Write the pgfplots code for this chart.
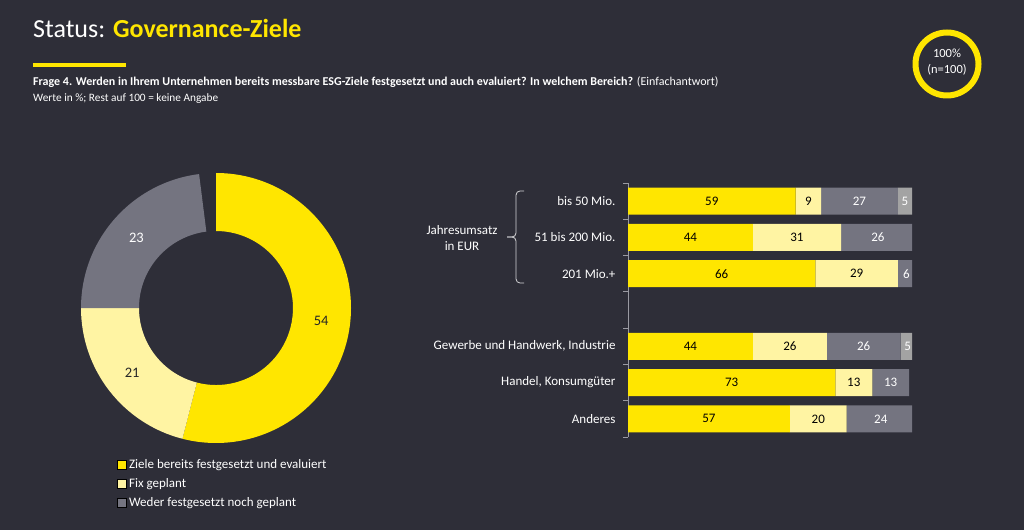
\documentclass[border=0pt]{standalone}
\usepackage{pgfplots}
\pgfplotsset{compat=1.18}
\usepackage{pgfplotstable}
\usepackage{fontspec}
\setmainfont{Carlito}

\definecolor{bg}{HTML}{2E2E38}
\definecolor{eyyellow}{HTML}{FFE600}
\definecolor{lightyellow}{HTML}{FFF4A3}
\definecolor{eygray}{HTML}{747480}
\definecolor{lightgray}{HTML}{A3A3A3}
\definecolor{axisgray}{HTML}{9A9AA2}

% Werte in %, Zeilen: 0..2 Jahresumsatz, 4..6 Branchen
\pgfplotstableread{
pos a b c d
0 59 9 27 5
1 44 31 26 0
2 66 29 6 0
4 44 26 26 5
5 73 13 13 0
6 57 20 24 0
}\umfrage

% Gesamt (Donut)
\pgfplotstableread{
anteil
54
21
23
}\gesamt

\pgfplotsset{
  barlabel/.style={only marks, mark=none, point meta=explicit,
    nodes near coords, restrict x to domain=0:100,
    every node near coord/.append style={anchor=center, font=\fontsize{13}{15}\selectfont, text=#1}},
}

\begin{document}
\begin{tikzpicture}
\fill[bg] (0pt,0pt) rectangle (1024pt,530pt);

% Kopf
\node[anchor=base west, inner sep=0pt, text=white, font=\fontsize{26}{30}\selectfont] at (33pt,492pt)
  {Status: \textcolor{eyyellow}{\bfseries Governance-Ziele}};
\fill[eyyellow] (33pt,463pt) rectangle (126pt,467pt);
\node[anchor=base west, inner sep=0pt, text=white, font=\fontsize{12}{14}\selectfont] at (33pt,444pt)
  {\textbf{Frage 4. Werden in Ihrem Unternehmen bereits messbare ESG-Ziele festgesetzt und auch evaluiert? In welchem Bereich?} (Einfachantwort)};
\node[anchor=base west, inner sep=0pt, text=white, font=\fontsize{11.3}{13}\selectfont] at (33pt,428pt)
  {Werte in \%; Rest auf 100 = keine Angabe};

% Kreis oben rechts
\draw[eyyellow, line width=6pt] (947pt,466pt) circle[radius=31.5pt];
\node[text=white, font=\fontsize{12.5}{14}\selectfont] at (947pt,477pt) {100\%};
\node[text=white, font=\fontsize{12.5}{14}\selectfont] at (947pt,460pt) {(n=100)};

% Donut
\pgfplotstablegetelem{0}{anteil}\of\gesamt \let\vA\pgfplotsretval
\pgfplotstablegetelem{1}{anteil}\of\gesamt \let\vB\pgfplotsretval
\pgfplotstablegetelem{2}{anteil}\of\gesamt \let\vC\pgfplotsretval
\pgfmathsetmacro\aO{90}
\pgfmathsetmacro\aA{\aO-3.6*\vA}
\pgfmathsetmacro\aB{\aA-3.6*\vB}
\pgfmathsetmacro\aC{\aB-3.6*\vC}
\pgfmathsetmacro\mA{(\aO+\aA)/2}
\pgfmathsetmacro\mB{(\aA+\aB)/2}
\pgfmathsetmacro\mC{(\aB+\aC)/2}
\begin{axis}[at={(216pt,222pt)}, anchor=center, scale only axis,
  width=280pt, height=280pt, disabledatascaling,
  xmin=-140, xmax=140, ymin=-140, ymax=140, hide axis, clip=false,
  legend style={at={(axis cs:-99.5,-149.5)}, anchor=north west, draw=none, fill=none,
    text=white, font=\fontsize{13}{15}\selectfont, row sep=5.5pt,
    inner sep=0pt, nodes={inner sep=1.5pt},
    /tikz/every odd column/.append style={column sep=1.5pt}},
  legend cell align=left,
  legend image code/.code={\fill[#1] (0pt,-4.5pt) rectangle (9pt,4.5pt);},
]
\fill[eyyellow] (axis cs:0,0) ++(\aO:135pt) arc[start angle=\aO, end angle=\aA, radius=135pt] -- ++(\aA+180:58pt) arc[start angle=\aA, end angle=\aO, radius=77pt] -- cycle;
\fill[lightyellow] (axis cs:0,0) ++(\aA:135pt) arc[start angle=\aA, end angle=\aB, radius=135pt] -- ++(\aB+180:58pt) arc[start angle=\aB, end angle=\aA, radius=77pt] -- cycle;
\fill[eygray] (axis cs:0,0) ++(\aB:135pt) arc[start angle=\aB, end angle=\aC, radius=135pt] -- ++(\aC+180:58pt) arc[start angle=\aC, end angle=\aB, radius=77pt] -- cycle;
\node[font=\fontsize{14.5}{16}\selectfont, text=black!85] at (axis cs:0,0) [shift={(\mA:106pt)}] {\vA};
\node[font=\fontsize{14.5}{16}\selectfont, text=black!85] at (axis cs:0,0) [shift={(\mB:106pt)}] {\vB};
\node[font=\fontsize{14.5}{16}\selectfont, text=white] at (axis cs:0,0) [shift={(\mC:106pt)}] {\vC};
\addlegendimage{fill=eyyellow}
\addlegendentry{Ziele bereits festgesetzt und evaluiert}
\addlegendimage{fill=lightyellow}
\addlegendentry{Fix geplant}
\addlegendimage{fill=eygray}
\addlegendentry{Weder festgesetzt noch geplant}
\end{axis}

% Balken
\begin{axis}[at={(628pt,347pt)}, anchor=north west, scale only axis,
  width=284pt, height=254pt,
  xmin=0, xmax=100, ymin=-0.5, ymax=6.5, y dir=reverse,
  xbar stacked, bar width=27pt,
  axis x line=none, axis y line*=left,
  axis line style={axisgray, line width=0.8pt},
  ytick={0,1,2,4,5,6},
  yticklabels={{bis 50 Mio.},{51 bis 200 Mio.},{201 Mio.+},{Gewerbe und Handwerk, Industrie},{Handel, Konsumgüter},{Anderes}},
  major tick length=0pt,
  yticklabel style={text=white, font=\fontsize{13}{15}\selectfont, xshift=-9pt},
  extra y ticks={-0.5,0.5,1.5,2.5,3.5,4.5,5.5,6.5},
  extra y tick labels={},
  extra y tick style={major tick length=5pt, tick align=outside,
    tick style={axisgray, line width=0.8pt}},
]
\addplot[fill=eyyellow, draw=none] table[x=a, y=pos] \umfrage;
\addplot[fill=lightyellow, draw=none] table[x=b, y=pos] \umfrage;
\addplot[fill=eygray, draw=none] table[x=c, y=pos] \umfrage;
\addplot[fill=lightgray, draw=none] table[x=d, y=pos] \umfrage;
\end{axis}

% Beschriftung der Balken (Segmentmitten aus denselben Daten)
\begin{axis}[at={(628pt,347pt)}, anchor=north west, scale only axis,
  width=284pt, height=254pt,
  xmin=0, xmax=100, ymin=-0.5, ymax=6.5, y dir=reverse, hide axis, clip=false,
  /pgf/number format/assume math mode=true]
\addplot[barlabel=black] table[x expr=\thisrow{a}/2, y=pos, meta=a] \umfrage;
\addplot[barlabel=black] table[x expr=\thisrow{a}+\thisrow{b}/2, y=pos, meta=b] \umfrage;
\addplot[barlabel=white] table[x expr=\thisrow{a}+\thisrow{b}+\thisrow{c}/2, y=pos, meta=c] \umfrage;
\addplot[barlabel=white] table[x expr={\thisrow{d}>0 ? \thisrow{a}+\thisrow{b}+\thisrow{c}+\thisrow{d}/2 : -50}, y=pos, meta=d] \umfrage;
\end{axis}

% Klammer Jahresumsatz
\draw[white!80!bg, line width=0.8pt, rounded corners=4pt] (524pt,339pt) -- (516pt,339pt) -- (516pt,293pt) -- (507pt,293pt);
\draw[white!80!bg, line width=0.8pt, rounded corners=4pt] (524pt,247pt) -- (516pt,247pt) -- (516pt,293pt) -- (507pt,293pt);
\node[text=white, align=center, font=\fontsize{13}{16}\selectfont] at (462pt,292pt) {Jahresumsatz\\in EUR};
\end{tikzpicture}
\end{document}
